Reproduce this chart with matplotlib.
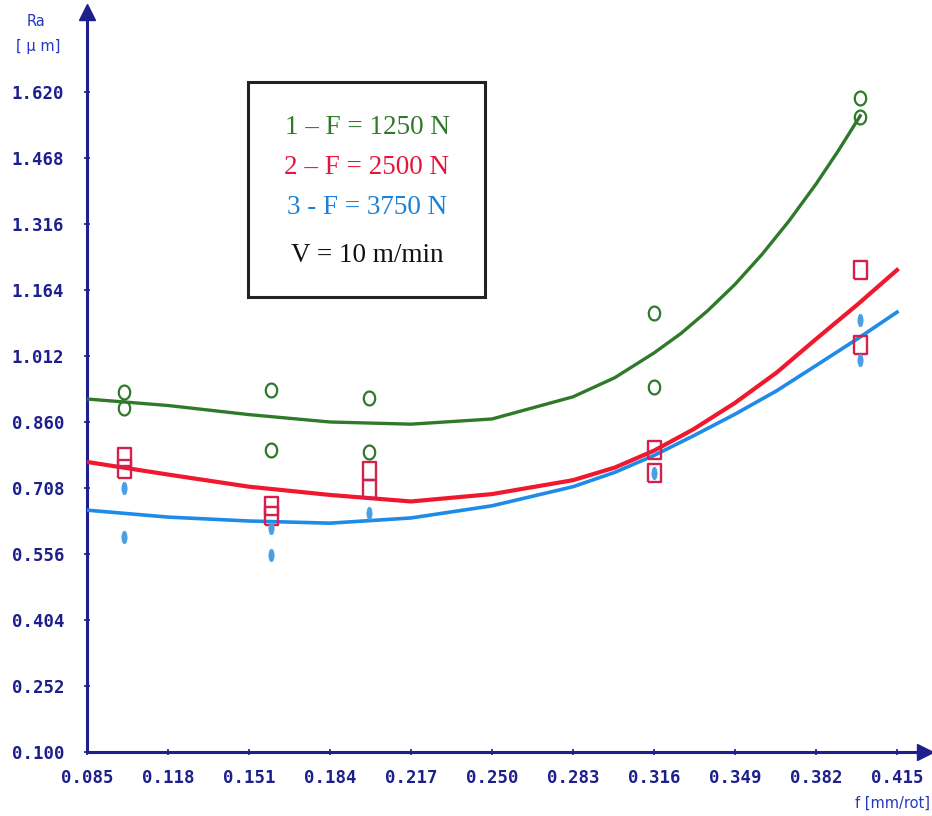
import numpy as np
import matplotlib
matplotlib.use("Agg")
import matplotlib.pyplot as plt

# ---- data -------------------------------------------------------------
x_ticks = [0.085, 0.118, 0.151, 0.184, 0.217, 0.250, 0.283, 0.316, 0.349, 0.382, 0.415]
y_ticks = [0.100, 0.252, 0.404, 0.556, 0.708, 0.860, 1.012, 1.164, 1.316, 1.468, 1.620]

green_x = [0.1, 0.1, 0.16, 0.16, 0.2, 0.2, 0.316, 0.316, 0.4, 0.4]
green_y = [0.929, 0.892, 0.934, 0.796, 0.915, 0.791, 1.111, 0.941, 1.606, 1.562]

red_x = [0.1, 0.1, 0.16, 0.16, 0.2, 0.2, 0.316, 0.316, 0.4, 0.4]
red_y = [0.779, 0.752, 0.667, 0.644, 0.747, 0.706, 0.795, 0.743, 1.210, 1.037]

blue_x = [0.1, 0.1, 0.16, 0.16, 0.2, 0.316, 0.4, 0.4]
blue_y = [0.708, 0.595, 0.616, 0.554, 0.650, 0.743, 1.095, 1.003]

# fitted curves
green_cx = [0.085, 0.118, 0.151, 0.184, 0.217, 0.250, 0.283, 0.300, 0.316, 0.327, 0.338,
            0.349, 0.360, 0.371, 0.382, 0.391, 0.400]
green_cy = [0.913, 0.898, 0.877, 0.860, 0.855, 0.867, 0.918, 0.962, 1.019, 1.064, 1.117,
            1.177, 1.246, 1.323, 1.408, 1.484, 1.565]

red_cx = [0.085, 0.118, 0.151, 0.184, 0.217, 0.250, 0.283, 0.300, 0.316, 0.332, 0.349,
          0.366, 0.382, 0.399, 0.415]
red_cy = [0.768, 0.739, 0.711, 0.692, 0.677, 0.694, 0.726, 0.755, 0.794, 0.843, 0.904,
          0.974, 1.051, 1.131, 1.210]

blue_cx = [0.085, 0.118, 0.151, 0.184, 0.217, 0.250, 0.283, 0.300, 0.316, 0.332, 0.349,
           0.366, 0.382, 0.399, 0.415]
blue_cy = [0.657, 0.641, 0.632, 0.627, 0.639, 0.667, 0.711, 0.744, 0.783, 0.828, 0.878,
           0.932, 0.990, 1.052, 1.113]

legend_lines = ["1 \u2013 F = 1250 N", "2 \u2013 F = 2500 N", "3 - F = 3750 N", "V = 10 m/min"]

# ---- style ------------------------------------------------------------
NAVY = "#1c1f8c"
GREEN = "#2f7a2a"
RED = "#f0182e"
BLUE = "#1f8be8"
SQ = "#d4204c"
PT_BLUE = "#4a9ee2"

t = np.linspace(0, 2 * np.pi, 40)
ell_circle = list(zip(0.82 * np.cos(t), np.sin(t)))
ell_thin = list(zip(0.42 * np.cos(t), np.sin(t)))
rect = [(-0.72, -1), (0.72, -1), (0.72, 1), (-0.72, 1), (-0.72, -1)]

W, H = 932, 816
fig = plt.figure(figsize=(W / 100, H / 100), dpi=100)
x0, x1 = 87, 925
y0, y1 = 752, 12
ax = fig.add_axes([x0 / W, (H - y0) / H, (x1 - x0) / W, (y0 - y1) / H])

xmax = 0.085 + (x1 - 87) / 81 * 0.033
ymax = 0.1 + (752 - y1) / 66 * 0.152
ax.set_xlim(0.085, xmax)
ax.set_ylim(0.1, ymax)

for s in ["top", "right"]:
    ax.spines[s].set_visible(False)
for s in ["left", "bottom"]:
    ax.spines[s].set_color(NAVY)
    ax.spines[s].set_linewidth(2.2)

ax.plot(1, 0, marker=">", color=NAVY, markersize=11, transform=ax.transAxes, clip_on=False)
ax.plot(0, 1, marker="^", color=NAVY, markersize=11, transform=ax.transAxes, clip_on=False)

ax.set_xticks(x_ticks)
ax.set_xticklabels([f"{v:.3f}" for v in x_ticks])
ax.set_yticks(y_ticks)
ax.set_yticklabels([f"{v:.3f}" for v in y_ticks])
for lab in ax.get_xticklabels() + ax.get_yticklabels():
    lab.set_fontfamily("DejaVu Sans Mono")
    lab.set_fontweight("bold")
    lab.set_fontsize(12.5)
    lab.set_color(NAVY)
ax.tick_params(axis="x", direction="inout", length=5, width=1.2, color=NAVY, pad=10)
ax.tick_params(axis="y", direction="inout", length=5, width=1.2, color=NAVY, pad=14)

# curves
ax.plot(green_cx, green_cy, color=GREEN, lw=2.4, zorder=3, solid_joinstyle="round")
ax.plot(red_cx, red_cy, color=RED, lw=3.0, zorder=3, solid_joinstyle="round")
ax.plot(blue_cx, blue_cy, color=BLUE, lw=2.6, zorder=3, solid_joinstyle="round")

# points
ax.plot(green_x, green_y, linestyle="none", marker=ell_circle, markersize=10,
        mfc="none", mec=GREEN, mew=1.6, zorder=4)
ax.plot(red_x, red_y, linestyle="none", marker=rect, markersize=13,
        mfc="none", mec=SQ, mew=1.7, zorder=4)
ax.plot(blue_x, blue_y, linestyle="none", marker=ell_thin, markersize=9,
        mfc=PT_BLUE, mec=PT_BLUE, mew=0.5, zorder=5)

# axis captions
fig.text(36 / W, 1 - 22 / H, "Ra", color="#2438c0", fontsize=10.5, ha="center", va="center")
fig.text(38 / W, 1 - 46 / H, "[ \u00b5 m]", color="#2438c0", fontsize=10.5, ha="center", va="center")
fig.text(930 / W, 1 - 803 / H, "f [mm/rot]", color="#2438c0", fontsize=10.5, ha="right", va="center")

# legend box
bx0, bx1, by0, by1 = 248, 485, 82, 297
box = plt.Rectangle((bx0 / W, 1 - by1 / H), (bx1 - bx0) / W, (by1 - by0) / H,
                    transform=fig.transFigure, fill=False, edgecolor="#222222", lw=2.2)
fig.add_artist(box)
cols = [GREEN, "#e8143c", "#1a82dc", "#111111"]
ys = [127, 167, 207, 255]
for txt, c, yy in zip(legend_lines, cols, ys):
    fig.text(367 / W, 1 - yy / H, txt, color=c, fontsize=19.5, family="Liberation Serif",
             ha="center", va="center")

fig.savefig("out.png", dpi=100, facecolor="white")
